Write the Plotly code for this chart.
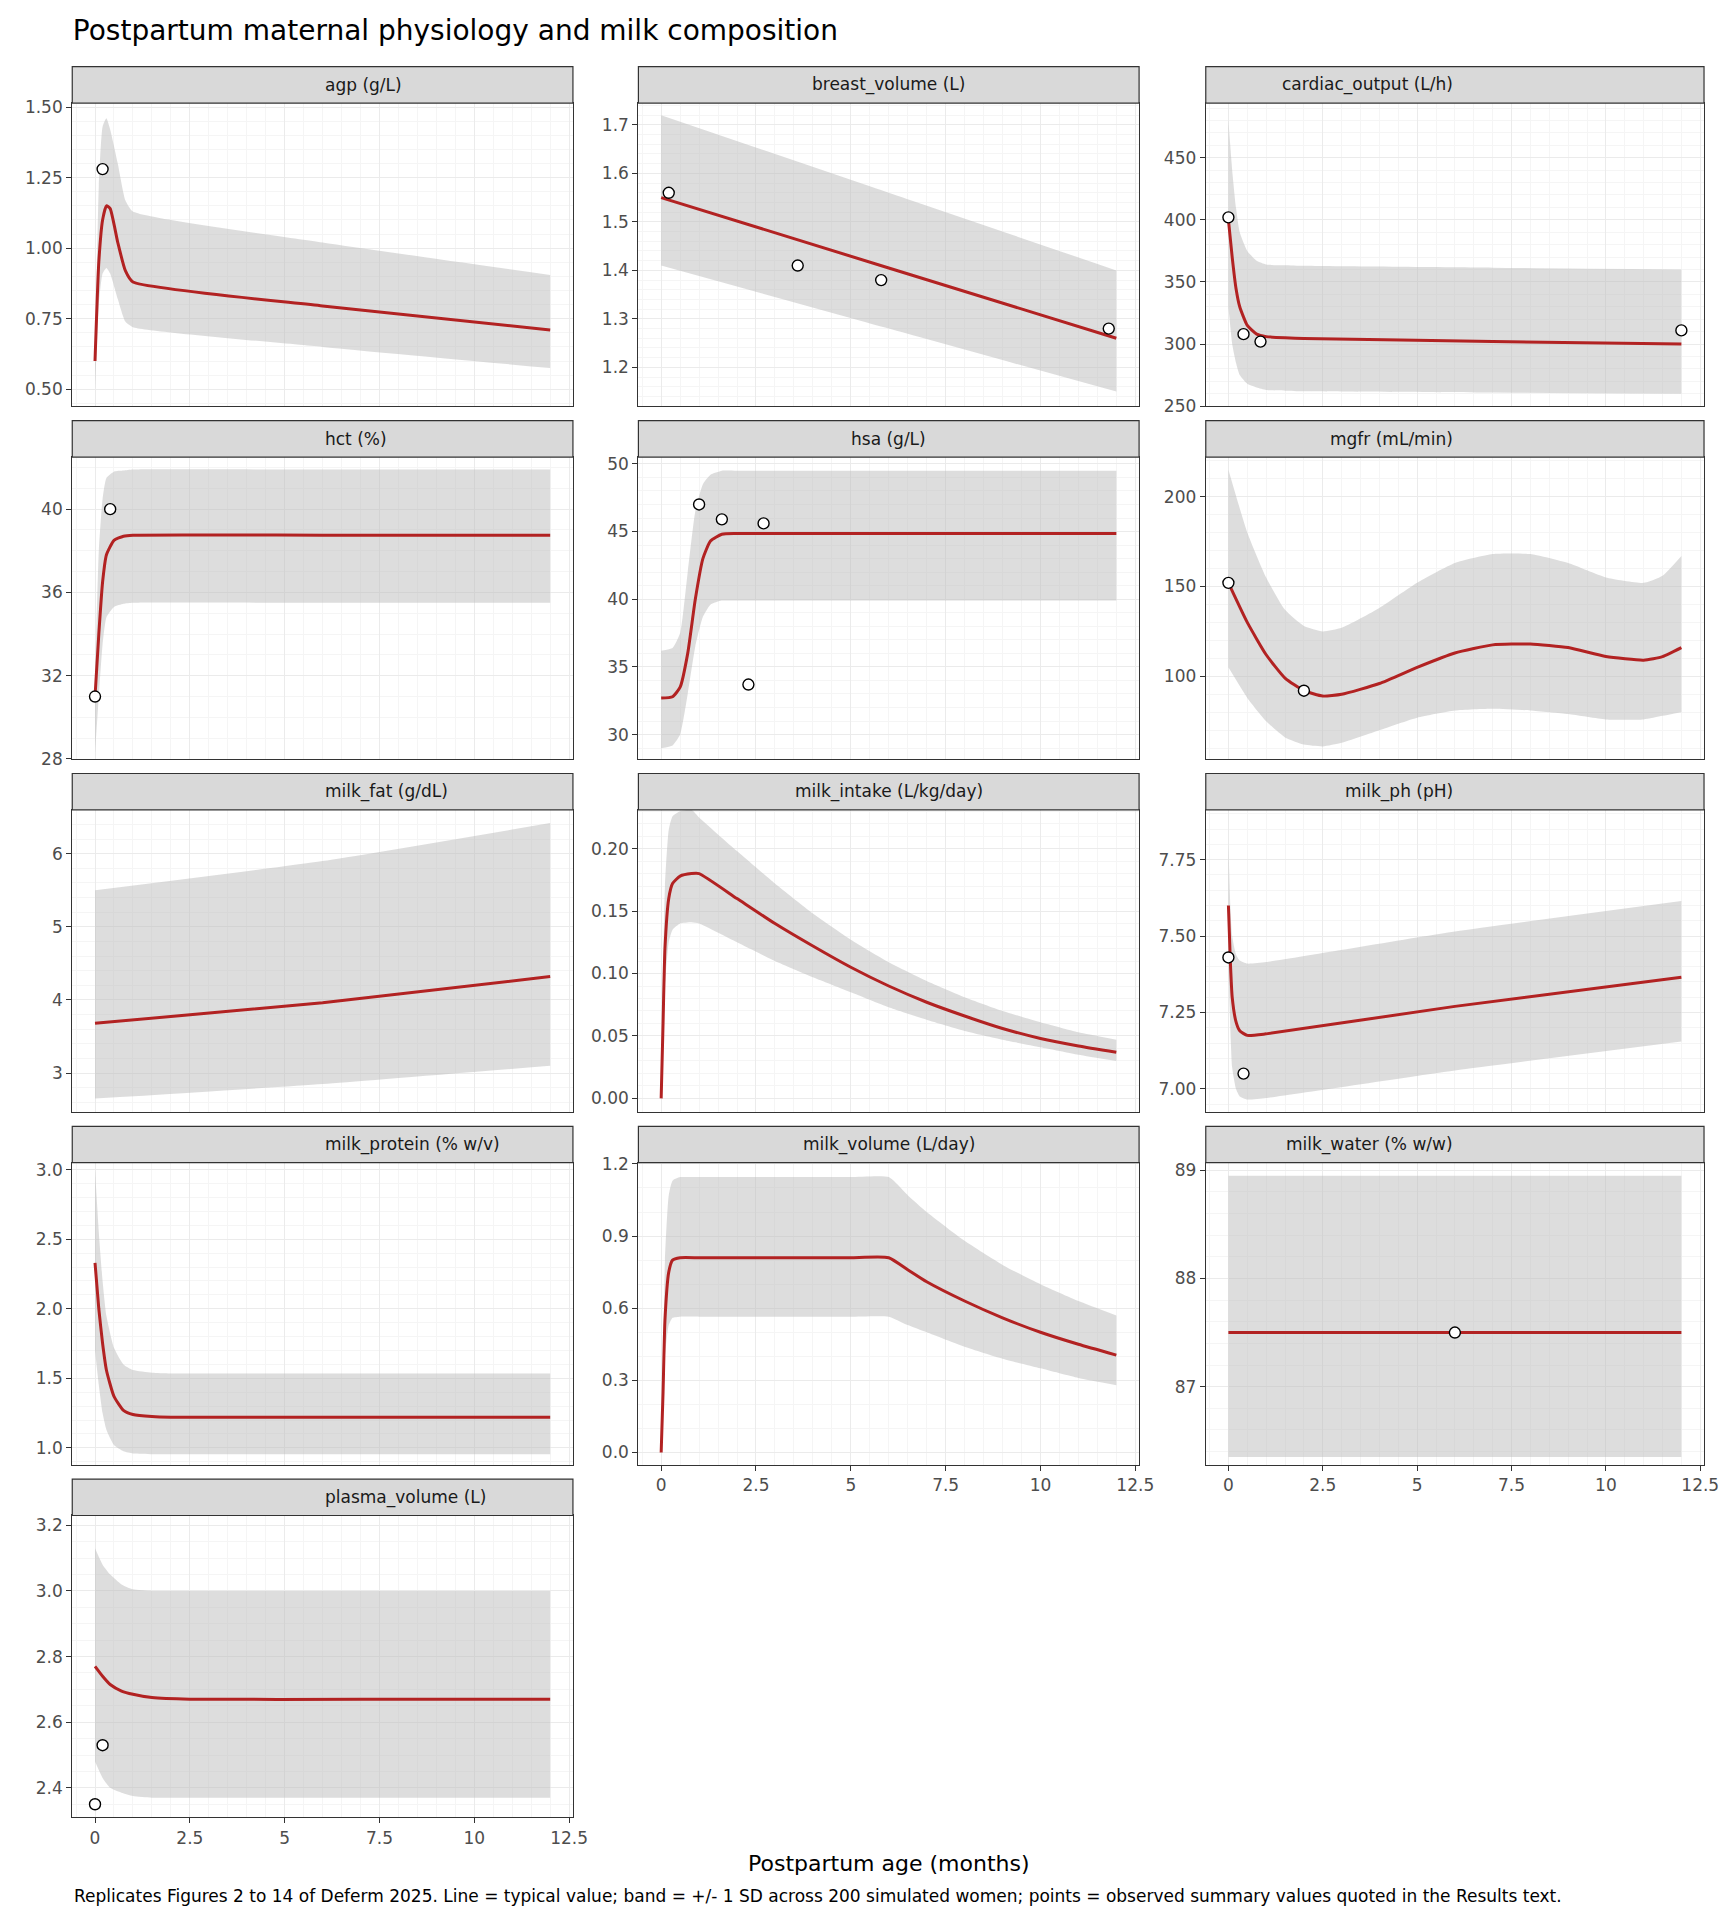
import plotly.graph_objects as go

# ---- data (x = postpartum months) ----
agp_x = [0, 0.1, 0.2, 0.3, 0.4, 0.6, 0.8, 1.0, 6, 12]
agp_y = [0.60, 0.95, 1.10, 1.15, 1.14, 1.02, 0.92, 0.88, 0.795, 0.71]
agp_hi = [0.62, 1.22, 1.43, 1.46, 1.42, 1.30, 1.17, 1.13, 1.02, 0.905]
agp_lo = [0.50, 0.80, 0.91, 0.93, 0.91, 0.82, 0.74, 0.72, 0.65, 0.575]
agp_obs_x = [0.2]
agp_obs_y = [1.28]

bv_x = [0, 6, 12]
bv_y = [1.55, 1.405, 1.26]
bv_hi = [1.72, 1.56, 1.40]
bv_lo = [1.41, 1.28, 1.15]
bv_obs_x = [0.2, 3.6, 5.8, 11.8]
bv_obs_y = [1.56, 1.41, 1.38, 1.28]

co_x = [0, 0.1, 0.2, 0.3, 0.5, 0.75, 1, 1.5, 2, 7, 12]
co_y = [400, 370, 345, 330, 315, 308, 306, 305, 304.5, 302, 300]
co_hi = [480, 440, 410, 390, 375, 367, 364, 363.5, 363, 361.5, 360]
co_lo = [330, 300, 285, 275, 268, 265, 263, 262.5, 262, 261, 260]
co_obs_x = [0, 0.4, 0.85, 12]
co_obs_y = [402, 308, 302, 311]

hct_x = [0, 0.1, 0.2, 0.3, 0.5, 0.75, 1, 6, 12]
hct_y = [31, 34, 36.5, 37.8, 38.5, 38.7, 38.75, 38.75, 38.75]
hct_hi = [32, 38, 40.5, 41.5, 41.8, 41.85, 41.9, 41.9, 41.9]
hct_lo = [28.3, 31, 33.5, 34.8, 35.3, 35.45, 35.5, 35.5, 35.5]
hct_obs_x = [0, 0.4]
hct_obs_y = [31, 40]

hsa_x = [0, 0.3, 0.5, 0.7, 0.9, 1.1, 1.3, 1.6, 2, 7, 12]
hsa_y = [32.7, 32.8, 33.5, 36, 40, 43, 44.3, 44.8, 44.85, 44.85, 44.85]
hsa_hi = [36.2, 36.4, 37.5, 42, 46.5, 48.5, 49.2, 49.5, 49.5, 49.5, 49.5]
hsa_lo = [29, 29.2, 30, 33, 36.5, 38.7, 39.6, 39.9, 39.9, 39.9, 39.9]
hsa_obs_x = [1.0, 1.6, 2.3, 2.7]
hsa_obs_y = [47, 45.9, 33.7, 45.6]

gfr_x = [0, 0.5, 1, 1.5, 2, 2.5, 3, 4, 5, 6, 7, 8, 9, 10, 11, 11.5, 12]
gfr_y = [152, 130, 112, 99, 92, 89, 90, 96, 105, 113, 117.5, 118, 116, 111, 109, 111, 116]
gfr_hi = [215, 180, 155, 137, 128, 125, 127, 138, 152, 163, 168, 168, 163, 155, 152, 156, 167]
gfr_lo = [105, 88, 75, 66, 62, 61, 63, 70, 77, 81, 82, 81, 79, 76, 76, 78, 80]
gfr_obs_x = [0, 2]
gfr_obs_y = [152, 92]

fat_x = [0, 6, 12]
fat_y = [3.68, 3.96, 4.32]
fat_hi = [5.5, 5.9, 6.42]
fat_lo = [2.65, 2.85, 3.1]

mi_x = [0, 0.05, 0.1, 0.2, 0.3, 0.5, 0.8, 1, 2, 3, 4, 5, 6, 7, 8, 9, 10, 11, 12]
mi_y = [0, 0.06, 0.12, 0.16, 0.172, 0.178, 0.18, 0.18, 0.16, 0.14, 0.122, 0.105, 0.09, 0.077, 0.066, 0.056, 0.048, 0.042, 0.037]
mi_hi = [0, 0.1, 0.17, 0.215, 0.226, 0.23, 0.231, 0.225, 0.198, 0.172, 0.148, 0.127, 0.109, 0.094, 0.081, 0.07, 0.061, 0.053, 0.047]
mi_lo = [0, 0.04, 0.09, 0.125, 0.135, 0.14, 0.141, 0.14, 0.125, 0.11, 0.097, 0.085, 0.073, 0.063, 0.054, 0.047, 0.041, 0.035, 0.03]

ph_x = [0, 0.05, 0.1, 0.2, 0.3, 0.5, 1, 6, 12]
ph_y = [7.6, 7.42, 7.3, 7.22, 7.19, 7.175, 7.18, 7.27, 7.365]
ph_hi = [7.8, 7.6, 7.5, 7.44, 7.42, 7.41, 7.415, 7.515, 7.615]
ph_lo = [7.4, 7.2, 7.07, 7.0, 6.975, 6.965, 6.97, 7.06, 7.155]
ph_obs_x = [0, 0.4]
ph_obs_y = [7.43, 7.05]

mp_x = [0, 0.1, 0.2, 0.3, 0.5, 0.75, 1, 1.5, 2, 7, 12]
mp_y = [2.33, 2.0, 1.75, 1.56, 1.37, 1.27, 1.24, 1.225, 1.22, 1.22, 1.22]
mp_hi = [3.0, 2.55, 2.2, 1.95, 1.72, 1.6, 1.56, 1.54, 1.535, 1.535, 1.535]
mp_lo = [1.7, 1.45, 1.25, 1.13, 1.02, 0.975, 0.96, 0.955, 0.955, 0.955, 0.955]

mv_x = [0, 0.05, 0.1, 0.2, 0.3, 0.5, 1, 2, 3, 4, 5, 6, 6.5, 7, 8, 9, 10, 11, 12]
mv_y = [0, 0.25, 0.55, 0.75, 0.8, 0.81, 0.81, 0.81, 0.81, 0.81, 0.81, 0.81, 0.76, 0.71, 0.63, 0.56, 0.5, 0.45, 0.405]
mv_hi = [0, 0.35, 0.8, 1.07, 1.13, 1.145, 1.145, 1.145, 1.145, 1.145, 1.145, 1.145, 1.07, 1.0, 0.88, 0.78, 0.7, 0.63, 0.57]
mv_lo = [0, 0.18, 0.4, 0.53, 0.56, 0.565, 0.565, 0.565, 0.565, 0.565, 0.565, 0.565, 0.53, 0.5, 0.44, 0.39, 0.35, 0.31, 0.28]

mw_x = [0, 12]
mw_y = [87.5, 87.5]
mw_hi = [88.95, 88.95]
mw_lo = [86.35, 86.35]
mw_obs_x = [6]
mw_obs_y = [87.5]

pv_x = [0, 0.2, 0.4, 0.7, 1, 1.5, 2.5, 7, 12]
pv_y = [2.77, 2.74, 2.715, 2.695, 2.685, 2.675, 2.67, 2.67, 2.67]
pv_hi = [3.13, 3.08, 3.05, 3.02, 3.005, 3.0, 3.0, 3.0, 3.0]
pv_lo = [2.48, 2.43, 2.40, 2.385, 2.375, 2.37, 2.37, 2.37, 2.37]
pv_obs_x = [0, 0.2]
pv_obs_y = [2.35, 2.53]

panels = [
    ("agp (g/L)", agp_x, agp_y, agp_lo, agp_hi, agp_obs_x, agp_obs_y, [0.44, 1.514], 0.25, ".2f"),
    ("breast_volume (L)", bv_x, bv_y, bv_lo, bv_hi, bv_obs_x, bv_obs_y, [1.12, 1.745], 0.1, ".1f"),
    ("cardiac_output (L/h)", co_x, co_y, co_lo, co_hi, co_obs_x, co_obs_y, [250, 494], 50, "d"),
    ("hct (%)", hct_x, hct_y, hct_lo, hct_hi, hct_obs_x, hct_obs_y, [28, 42.5], 4, "d"),
    ("hsa (g/L)", hsa_x, hsa_y, hsa_lo, hsa_hi, hsa_obs_x, hsa_obs_y, [28.2, 50.5], 5, "d"),
    ("mgfr (mL/min)", gfr_x, gfr_y, gfr_lo, gfr_hi, gfr_obs_x, gfr_obs_y, [54, 222], 50, "d"),
    ("milk_fat (g/dL)", fat_x, fat_y, fat_lo, fat_hi, [], [], [2.47, 6.6], 1, "d"),
    ("milk_intake (L/kg/day)", mi_x, mi_y, mi_lo, mi_hi, [], [], [-0.0107, 0.231], 0.05, ".2f"),
    ("milk_ph (pH)", ph_x, ph_y, ph_lo, ph_hi, ph_obs_x, ph_obs_y, [6.925, 7.913], 0.25, ".2f"),
    ("milk_protein (% w/v)", mp_x, mp_y, mp_lo, mp_hi, [], [], [0.88, 3.05], 0.5, ".1f"),
    ("milk_volume (L/day)", mv_x, mv_y, mv_lo, mv_hi, [], [], [-0.05, 1.205], 0.3, ".1f"),
    ("milk_water (% w/w)", mw_x, mw_y, mw_lo, mw_hi, mw_obs_x, mw_obs_y, [86.28, 89.07], 1, "d"),
    ("plasma_volume (L)", pv_x, pv_y, pv_lo, pv_hi, pv_obs_x, pv_obs_y, [2.31, 3.23], 0.2, ".1f"),
]

W, H = 1413.0, 1568.0   # reference measured in these units
cols = [(53, 466), (520, 933), (988, 1399)]
rows = [(41, 71, 321), (333, 363, 612), (624, 654, 903), (915, 945, 1194), (1206, 1236, 1485)]
bottom_idx = {10, 11, 12}

fig = go.Figure()
layout = {}
shapes = []
annotations = []

for i, (name, x, y, lo, hi, ox, oy, yr, dt, fmt) in enumerate(panels):
    r, c = divmod(i, 3)
    n = i + 1
    xa = "x" if n == 1 else f"x{n}"
    ya = "y" if n == 1 else f"y{n}"
    x0, x1 = cols[c]
    st, sb, pb = rows[r]
    # ribbon: lower edge, then upper edge filled down to it
    fig.add_trace(go.Scatter(x=x, y=lo, mode="lines", line=dict(width=0, shape="spline", smoothing=0.5),
                             hoverinfo="skip", showlegend=False, xaxis=xa, yaxis=ya))
    fig.add_trace(go.Scatter(x=x, y=hi, mode="lines", line=dict(width=0, shape="spline", smoothing=0.5),
                             fill="tonexty", fillcolor="rgba(190,190,190,0.52)",
                             hoverinfo="skip", showlegend=False, xaxis=xa, yaxis=ya))
    fig.add_trace(go.Scatter(x=x, y=y, mode="lines", line=dict(color="#b22222", width=3, shape="spline", smoothing=0.5),
                             showlegend=False, xaxis=xa, yaxis=ya))
    if ox:
        fig.add_trace(go.Scatter(x=ox, y=oy, mode="markers",
                                 marker=dict(color="white", size=11, line=dict(color="black", width=1.4)),
                                 showlegend=False, xaxis=xa, yaxis=ya))
    common = dict(showline=True, mirror=True, linecolor="#333333", linewidth=1.2,
                  gridcolor="#ebebeb", zeroline=False, ticks="outside", ticklen=5, tickcolor="#333333",
                  tickfont=dict(size=17, color="#4d4d4d"),
                  minor=dict(showgrid=True, gridcolor="#f5f5f5"))
    layout[xa.replace("x", "xaxis")] = dict(common, domain=[x0 / W, x1 / W], anchor=ya, range=[-0.6, 12.6],
                                            tick0=0, dtick=2.5, showticklabels=i in bottom_idx,
                                            ticks="outside" if i in bottom_idx else "")
    layout[ya.replace("y", "yaxis")] = dict(common, domain=[1 - pb / H, 1 - sb / H], anchor=xa, range=yr,
                                            dtick=dt, tickformat=fmt)
    shapes.append(dict(type="rect", xref="paper", yref="paper", x0=x0 / W, x1=x1 / W,
                       y0=1 - sb / H, y1=1 - st / H, fillcolor="#d9d9d9", line=dict(color="#333333", width=1.2)))
    annotations.append(dict(text=name, xref="paper", yref="paper", x=(x0 + x1) / 2 / W, y=1 - (st + sb) / 2 / H,
                            yanchor="middle", showarrow=False, font=dict(size=17, color="#1a1a1a")))

annotations.append(dict(text="Postpartum age (months)", xref="paper", yref="paper", x=727 / W, y=1 - 1523 / H,
                        yanchor="middle", showarrow=False, font=dict(size=22, color="black")))
annotations.append(dict(text="Replicates Figures 2 to 14 of Deferm 2025. Line = typical value; band = +/- 1 SD across 200 simulated women; points = observed summary values quoted in the Results text.",
                        xref="paper", yref="paper", x=53 / W, y=1 - 1550 / H, xanchor="left", yanchor="middle",
                        showarrow=False, font=dict(size=17, color="black")))

fig.update_layout(
    width=1728, height=1920, margin=dict(l=0, r=0, t=0, b=0),
    paper_bgcolor="white", plot_bgcolor="white",
    font=dict(family="DejaVu Sans"),
    title=dict(text="Postpartum maternal physiology and milk composition", x=53 / W, xanchor="left",
               y=1 - 18 / H, yanchor="middle", font=dict(size=28, color="black")),
    shapes=shapes, annotations=annotations, **layout)

fig.write_html("out.html")
